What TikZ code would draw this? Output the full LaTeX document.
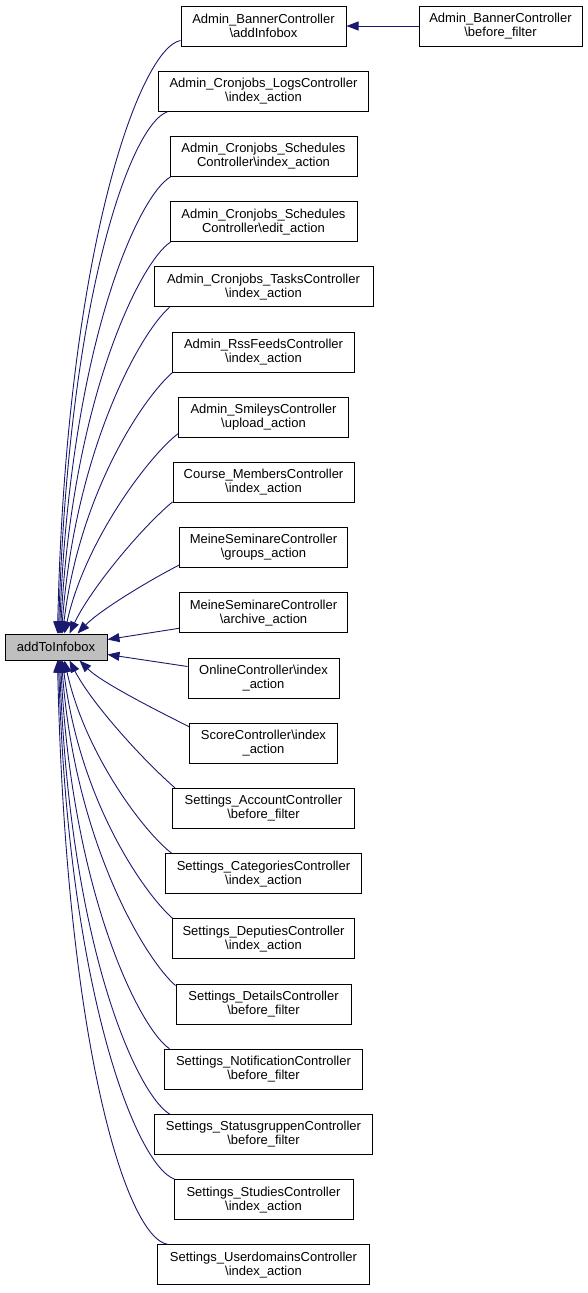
\documentclass[tikz,border=0pt]{standalone}
\usepackage{fontspec}
\setmainfont{Liberation Sans}
\usetikzlibrary{arrows.meta,calc}
\definecolor{edgeblue}{RGB}{25,25,112}
\definecolor{maingray}{RGB}{191,191,191}
\begin{document}
\begin{tikzpicture}[x=1pt,y=-1pt,
  box/.style={draw=black,line width=1pt,align=center,inner sep=0pt,
    minimum height=40pt,font=\fontsize{13}{14}\selectfont},
  mainbox/.style={box,fill=maingray,minimum height=26pt,minimum width=102pt},
  edge/.style={draw=edgeblue,line width=0.9pt,
    -{Triangle[length=12pt,width=9pt]}}]
\useasboundingbox (0,0) rectangle (588,1293);

\node[mainbox] (main) at (56,647) {addToInfobox};

\node[box,minimum width=165pt] (n0) at (263.5,26) {Admin\_BannerController\\{\textbackslash}addInfobox};
\node[box,minimum width=163pt] (bf) at (500.5,26) {Admin\_BannerController\\{\textbackslash}before\_filter};
\node[box,minimum width=210pt] (n1) at (263.5,91.2) {Admin\_Cronjobs\_LogsController\\{\textbackslash}index\_action};
\node[box,minimum width=187pt] (n2) at (263.5,156.4) {Admin\_Cronjobs\_Schedules\\Controller{\textbackslash}index\_action};
\node[box,minimum width=187pt] (n3) at (263.5,221.6) {Admin\_Cronjobs\_Schedules\\Controller{\textbackslash}edit\_action};
\node[box,minimum width=219pt] (n4) at (263.5,286.8) {Admin\_Cronjobs\_TasksController\\{\textbackslash}index\_action};
\node[box,minimum width=182pt] (n5) at (263.5,352) {Admin\_RssFeedsController\\{\textbackslash}index\_action};
\node[box,minimum width=170pt] (n6) at (263.5,417.2) {Admin\_SmileysController\\{\textbackslash}upload\_action};
\node[box,minimum width=181pt] (n7) at (263.5,482.4) {Course\_MembersController\\{\textbackslash}index\_action};
\node[box,minimum width=168pt] (n8) at (263.5,547.6) {MeineSeminareController\\{\textbackslash}groups\_action};
\node[box,minimum width=168pt] (n9) at (263.5,612.8) {MeineSeminareController\\{\textbackslash}archive\_action};
\node[box,minimum width=151pt] (n10) at (263.5,678) {OnlineController{\textbackslash}index\\\_action};
\node[box,minimum width=148pt] (n11) at (263.5,743.2) {ScoreController{\textbackslash}index\\\_action};
\node[box,minimum width=182pt] (n12) at (263.5,808.4) {Settings\_AccountController\\{\textbackslash}before\_filter};
\node[box,minimum width=196pt] (n13) at (263.5,873.6) {Settings\_CategoriesController\\{\textbackslash}index\_action};
\node[box,minimum width=182pt] (n14) at (263.5,938.8) {Settings\_DeputiesController\\{\textbackslash}index\_action};
\node[box,minimum width=175pt] (n15) at (263.5,1004) {Settings\_DetailsController\\{\textbackslash}before\_filter};
\node[box,minimum width=198pt] (n16) at (263.5,1069.2) {Settings\_NotificationController\\{\textbackslash}before\_filter};
\node[box,minimum width=218pt] (n17) at (263.5,1134.4) {Settings\_StatusgruppenController\\{\textbackslash}before\_filter};
\node[box,minimum width=179pt] (n18) at (263.5,1199.6) {Settings\_StudiesController\\{\textbackslash}index\_action};
\node[box,minimum width=212pt] (n19) at (263.5,1264.8) {Settings\_UserdomainsController\\{\textbackslash}index\_action};

% horizontal edge
\draw[edge] (bf) -- (n0);

% upper edges
\draw[edge] ($(n0.south west)+(0,-6)$) .. controls (140,48) and (66,250) .. ($(main.north west)+(53,0)$);
\draw[edge] ($(n1.south west)+(9.5,0)$) .. controls (130,125) and (68,300) .. ($(main.north west)+(54,0)$);
\draw[edge] ($(n2.south west)+(1,0)$) .. controls (140,194) and (70,340) .. ($(main.north west)+(55,0)$);
\draw[edge] ($(n3.south west)+(1,0)$) .. controls (140,262) and (72,400) .. ($(main.north west)+(56,0)$);
\draw[edge] ($(n4.south west)+(16,0)$) .. controls (140,333) and (75,450) .. ($(main.north west)+(57,0)$);
\draw[edge] ($(n5.south west)+(0.5,0)$) .. controls (145,396) and (80,490) .. ($(main.north west)+(58,0)$);
\draw[edge] ($(n6.south west)+(0,-4)$) .. controls (150,455) and (85,540) .. ($(main.north west)+(60,0)$);
\draw[edge] ($(n7.south west)+(0,-1)$) .. controls (140,529) and (90,590) .. ($(main.north west)+(65,0)$);
\draw[edge] ($(n8.south west)+(0,-3)$) .. controls (150,580) and (100,610) .. ($(main.north west)+(73,0)$);

% side edges
\draw[edge] ($(n9.south west)+(0,-5)$) -- ($(main.north east)+(0,6)$);
\draw[edge] ($(n10.north west)+(0,9)$) -- ($(main.north east)+(0,21)$);

% lower edges
\draw[edge] ($(n11.north west)+(0,4)$) .. controls (160,712) and (102,683) .. ($(main.south west)+(75,0)$);
\draw[edge] ($(n12.north west)+(3,0)$) .. controls (143,760) and (92,704) .. ($(main.south west)+(65,0)$);
\draw[edge] ($(n13.north west)+(6.5,0)$) .. controls (144,832) and (85,754) .. ($(main.south west)+(60,0)$);
\draw[edge] ($(n14.north west)+(0.5,0)$) .. controls (146,895) and (80,804) .. ($(main.south west)+(58,0)$);
\draw[edge] ($(n15.north west)+(0,2)$) .. controls (146,960) and (75,844) .. ($(main.south west)+(57,0)$);
\draw[edge] ($(n16.north west)+(5.5,0)$) .. controls (140,1029) and (72,894) .. ($(main.south west)+(56,0)$);
\draw[edge] ($(n17.north west)+(15.5,0)$) .. controls (139,1096) and (70,954) .. ($(main.south west)+(55,0)$);
\draw[edge] ($(n18.north west)+(1,0)$) .. controls (137,1166) and (68,994) .. ($(main.south west)+(54,0)$);
\draw[edge] ($(n19.north west)+(10.5,0)$) .. controls (126,1237) and (66,1044) .. ($(main.south west)+(53,0)$);
\end{tikzpicture}
\end{document}
